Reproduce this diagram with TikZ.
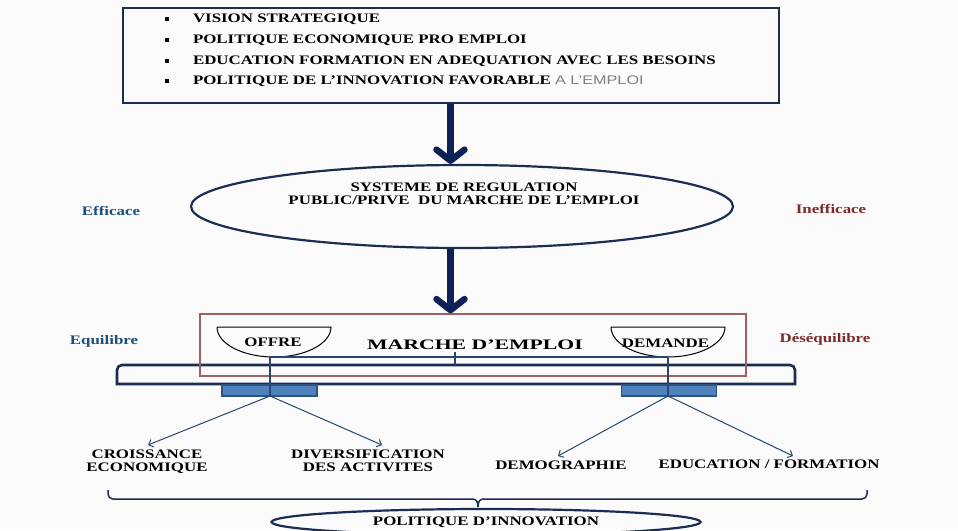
\documentclass[tikz,border=0pt]{standalone}
\usepackage{fontspec}
\setmainfont[FakeStretch=1.3]{Liberation Serif}
\newfontfamily\bigfont[FakeStretch=1.5]{Liberation Serif}
\newfontfamily\grayfont[FakeStretch=1.3]{Liberation Sans}
\usetikzlibrary{arrows.meta,shapes.geometric}
\definecolor{bgc}{HTML}{FBFBFB}
\definecolor{navy}{HTML}{1B2E52}
\definecolor{arrowc}{HTML}{0E2157}
\definecolor{connc}{HTML}{2A4670}
\definecolor{marchec}{HTML}{A0605F}
\definecolor{effc}{HTML}{1F4E79}
\definecolor{ineffc}{HTML}{7B2B2B}
\definecolor{blockfill}{HTML}{4F81BD}
\definecolor{blockline}{HTML}{2F527F}
\definecolor{grayt}{HTML}{808080}
\tikzset{
  txt/.style={font=\fontsize{13}{13}\selectfont\bfseries, inner sep=0pt, outer sep=0pt},
  bigarrow/.style={draw=arrowc, line width=6.5pt, -{Straight Barb[length=11pt,width=28pt,round]}},
  thinarrow/.style={draw=connc, line width=1pt, -{Straight Barb[length=4pt,width=8pt]}},
  conn/.style={draw=connc, line width=1.2pt},
  block/.style={draw=blockline, fill=blockfill, line width=1.3pt, minimum width=95pt, minimum height=11pt, inner sep=0pt},
  bullet/.style={fill=black, minimum size=4pt, inner sep=0pt},
  eff/.style={txt, text=effc},
  ineff/.style={txt, text=ineffc},
}
\begin{document}
\begin{tikzpicture}[x=1pt,y=-1pt]
\fill[bgc] (0,0) rectangle (958,530);
\useasboundingbox (0,0) rectangle (958,530);

% top box
\node[draw=navy, line width=2pt, minimum width=656pt, minimum height=95pt, inner sep=0pt] (top) at (450.5,55.5) {};
\node[bullet] (b1) at (167,19) {};
\node[bullet] (b2) at (167,40) {};
\node[bullet] (b3) at (167,61) {};
\node[bullet] (b4) at (167,81) {};
\node[txt, anchor=west] (l1) at (193,19) {VISION STRATEGIQUE};
\node[txt, anchor=west] (l2) at (193,40) {POLITIQUE ECONOMIQUE PRO EMPLOI};
\node[txt, anchor=west] (l3) at (193,61) {EDUCATION FORMATION EN ADEQUATION AVEC LES BESOINS};
\node[txt, anchor=west] (l4) at (193,81) {POLITIQUE DE L’INNOVATION FAVORABLE {\grayfont\mdseries\fontsize{12.5}{12.5}\selectfont\color{grayt}A L’EMPLOI}};

% regulation ellipse
\node[ellipse, draw=navy, line width=2.2pt, minimum width=542pt, minimum height=83pt, inner sep=0pt] (ell) at (462,206.5) {};
\node[txt, align=center] (ellt) at (464,193.5) {SYSTEME DE REGULATION\\PUBLIC/PRIVE\ \ DU MARCHE DE L’EMPLOI};

\node[eff] (efficace) at (111,211) {Efficace};
\node[ineff] (inefficace) at (831,209) {Inefficace};
\node[eff] (equilibre) at (104,341) {Equilibre};
\node[ineff] (desequilibre) at (825,339) {Déséquilibre};

% bar
\draw[navy, line width=2.6pt] (117,384) -- (117,370) arc[start angle=180,end angle=270,radius=5] -- (790,365) arc[start angle=270,end angle=360,radius=5] -- (795,384) -- cycle;

% marche box
\node[draw=marchec, line width=1.3pt, minimum width=546pt, minimum height=62pt, inner sep=0pt] (marche) at (473,345) {};
\node[inner sep=0pt] (mt) at (475,344.5) {\bigfont\bfseries\fontsize{14.5}{15}\selectfont MARCHE D’EMPLOI};

% bowls
\draw[black, line width=1pt] (217,327) -- (331,327) arc[start angle=0,end angle=180,x radius=57,y radius=30];
\draw[black, line width=1pt] (611,327) -- (725,327) arc[start angle=0,end angle=180,x radius=57,y radius=30];
\node[txt] (offre) at (273,342) {OFFRE};
\node[txt] (demande) at (665.5,343) {DEMANDE};

\coordinate (ob) at (270,357);
\coordinate (db) at (668,357);
\coordinate (lo) at (270,396);
\coordinate (ro) at (668,396);
\coordinate (tk1) at (455,352);
\coordinate (tk2) at (455,365);

% blocks
\node[block] (bl) at (269.5,390.5) {};
\node[block] (br) at (669,390.5) {};

\draw[conn, line width=1.8pt] (ob) -- (db);
\draw[conn] (tk1) -- (tk2);
\draw[conn] (ob) -- (lo);
\draw[conn] (db) -- (ro);

% big arrows
\draw[bigarrow] (top.south) -- (top.south |- ell.north);
\draw[bigarrow] (top.south |- ell.south) -- (top.south |- marche.north);

% labels
\node[txt, align=center] (crois) at (147,462) {CROISSANCE\\ECONOMIQUE};
\node[txt, align=center] (divers) at (368,461) {DIVERSIFICATION\\DES ACTIVITES};
\node[txt] (demo) at (561,465) {DEMOGRAPHIE};
\node[txt] (edu) at (769,464) {EDUCATION / FORMATION};

\coordinate (t1) at (148,445);
\coordinate (t2) at (382,445);
\coordinate (t3) at (558,456);
\coordinate (t4) at (793,456);
\draw[thinarrow] (lo) -- (t1);
\draw[thinarrow] (lo) -- (t2);
\draw[thinarrow] (ro) -- (t3);
\draw[thinarrow] (ro) -- (t4);

% brace
\draw[navy, line width=1.5pt] (108,490) -- (108,494) arc[start angle=180,end angle=90,radius=5] -- (472,499)
  .. controls (476,499) and (478,501) .. (478,507)
  .. controls (478,501) and (480,499) .. (484,499) -- (862,499)
  arc[start angle=90,end angle=0,radius=5] -- (867,490);

% bottom ellipse
\node[ellipse, draw=navy, line width=2.2pt, minimum width=429pt, minimum height=26pt, inner sep=0pt, txt] (pol) at (486,522) {POLITIQUE D’INNOVATION};
\end{tikzpicture}
\end{document}
